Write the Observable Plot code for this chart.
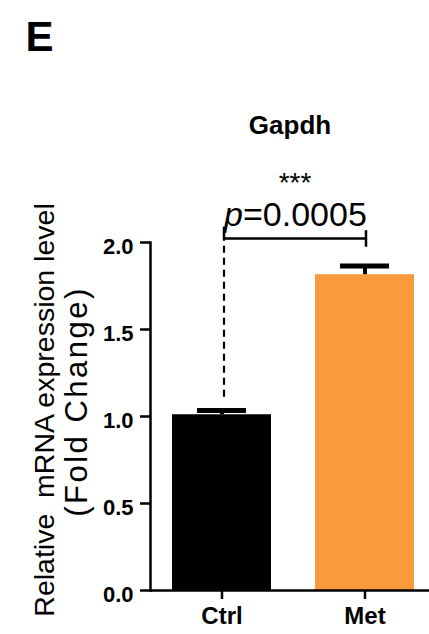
<!DOCTYPE html>
<html>
<head>
<meta charset="utf-8">
<script src="https://cdn.jsdelivr.net/npm/d3@7"></script>
<script src="https://cdn.jsdelivr.net/npm/@observablehq/plot@0.6"></script>
<style>
  html, body { margin: 0; padding: 0; background: #ffffff; }
</style>
</head>
<body>
<div id="chart"></div>
<script>
// ---- data ----
const categories = ["Ctrl", "Met"];
const means = [1.01, 1.815];
const errors = [0.025, 0.05];
const yTicks = [0, 0.5, 1.0, 1.5, 2.0];
const barColors = ["#000000", "#fa9a3c"];
const panelLabel = "E";
const geneName = "Gapdh";
const yTitleLine1 = "Relative\u00a0 mRNA expression level";
const yTitleLine2 = "(Fold Change)";
const comparisonFrom = "Ctrl";
const comparisonTo = "Met";
const pPrefix = "p";
const pValueText = "=0.0005";
const starsText = "***";

// ---- derived tables ----
const bars = categories.map((c, i) => ({group: c, mean: means[i], err: errors[i], top: means[i] + errors[i]}));
const BRACKET_Y = 2.023;
const cmp = {
  from: comparisonFrom,
  to: comparisonTo,
  level: BRACKET_Y,
  fromTop: bars.find(d => d.group === comparisonFrom).top,
  stars: starsText,
  prefix: pPrefix,
  pval: pValueText
};

const font = "'Liberation Sans', Arial, Helvetica, sans-serif";

const chart = Plot.plot({
  width: 429,
  height: 634,
  marginTop: 242,
  marginBottom: 44,
  marginLeft: 150,
  marginRight: 0,
  style: {fontFamily: font, background: "#ffffff", color: "#000000"},
  x: {type: "band", domain: categories, paddingInner: 0.3077, paddingOuter: 0.129, align: 0.595, label: null},
  y: {domain: [0, 2], label: null},
  color: {domain: categories, range: barColors},
  marks: [
    Plot.barY(bars, {x: "group", y: "mean", fill: "group"}),
    Plot.ruleX(bars, {x: "group", y1: "mean", y2: "top", stroke: "#000", strokeWidth: 4}),
    Plot.tickY(bars, {x: "group", y: "top", stroke: "#000", strokeWidth: 5, insetLeft: 25, insetRight: 25}),
    Plot.ruleY([0], {stroke: "#000", strokeWidth: 2.5}),
    Plot.frame({anchor: "left", stroke: "#000", strokeWidth: 2.5}),
    Plot.axisY({ticks: yTicks, tickSize: 10, fill: "none", stroke: "#000", strokeWidth: 2.5, label: null}),
    Plot.axisY({ticks: yTicks, tickSize: 10, tickPadding: 7, stroke: "none", dy: 4,
      tickFormat: d => d.toFixed(1), fontSize: 22, fontWeight: "bold", label: null}),
    Plot.axisX({tickSize: 9, tickPadding: 7, stroke: "#000", strokeWidth: 2.5,
      fontSize: 24, fontWeight: "bold", label: null}),
    // significance bracket
    Plot.link([cmp], {x1: "from", x2: "to", y1: d => d.level, y2: d => d.level, stroke: "#000", strokeWidth: 2.5, dx: 2}),
    Plot.ruleX([cmp], {x: "from", y1: d => d.fromTop + 0.075, y2: d => d.level, stroke: "#000", strokeWidth: 2.2, strokeDasharray: "7,5", dx: 2}),
    Plot.ruleX([cmp], {x: "from", y1: d => d.level, y2: d => d.level + 0.065, stroke: "#000", strokeWidth: 2.5, dx: 2}),
    Plot.ruleX([cmp], {x: "to", y1: d => d.level - 0.05, y2: d => d.level + 0.045, stroke: "#000", strokeWidth: 2.5, dx: 1}),
    Plot.text([cmp], {y: d => d.level, text: "stars", frameAnchor: "top", textAnchor: "middle", dx: 5, dy: -46, fontSize: 28, lineAnchor: "bottom"}),
    Plot.text([cmp], {y: d => d.level, text: "prefix", frameAnchor: "top", dx: -47, dy: -12, fontSize: 34, fontStyle: "italic", textAnchor: "end", lineAnchor: "bottom"}),
    Plot.text([cmp], {y: d => d.level, text: "pval", frameAnchor: "top", dx: -47, dy: -12, fontSize: 34, textAnchor: "start", lineAnchor: "bottom"}),
    // titles
    Plot.text([panelLabel], {text: d => d, frameAnchor: "top-left", dx: -125, dy: -192, fontSize: 42, fontWeight: "bold", textAnchor: "start", lineAnchor: "bottom"}),
    Plot.text([geneName], {text: d => d, frameAnchor: "top", textAnchor: "middle", dy: -109, fontSize: 26, fontWeight: "bold", lineAnchor: "bottom"}),
    Plot.text([yTitleLine1], {text: d => d, frameAnchor: "left", textAnchor: "middle", rotate: -90, dx: -97, dy: -6.5, fontSize: 28.5, lineAnchor: "bottom"}),
    Plot.text([yTitleLine2], {text: d => d, frameAnchor: "left", textAnchor: "middle", rotate: -90, dx: -64, dy: -15, fontSize: 31, lineAnchor: "bottom"})
  ]
});

d3.select(chart).selectAll("text").filter(function () { return this.textContent === yTitleLine2; })
  .attr("letter-spacing", 2.5);

document.getElementById("chart").appendChild(chart);
</script>
</body>
</html>
